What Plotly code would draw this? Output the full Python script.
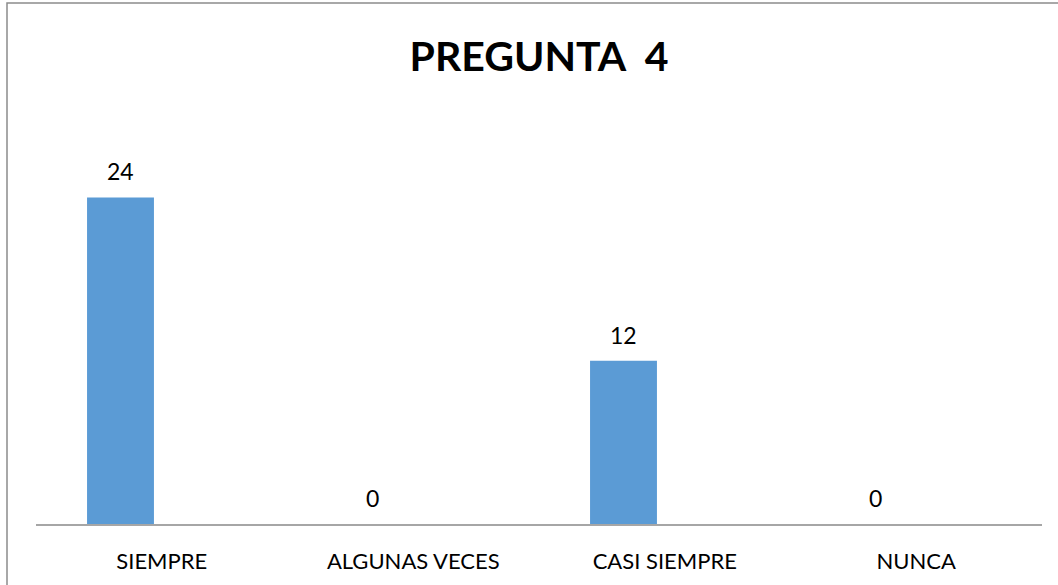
import plotly.graph_objects as go

# data
categories = ["SIEMPRE", "ALGUNAS VECES", "CASI SIEMPRE", "NUNCA"]
values = [24, 0, 12, 0]
title = "PREGUNTA\u00a0 4"

W, H = 1058, 585
left, right, top, bottom = 36, 16, 143, 61
plot_w = W - left - right
plot_h = H - top - bottom
cat_w = plot_w / len(categories)

bar_color = "#5B9BD5"
font_name = "Lato"

fig = go.Figure()
fig.add_trace(go.Bar(
    x=categories, y=values,
    width=0.266, offset=-0.297,
    marker=dict(color=bar_color, line=dict(width=0)),
    hoverinfo="skip",
))

# value labels above bars
for c, v in zip(categories, values):
    fig.add_annotation(
        x=c, y=v, text=str(v), showarrow=False,
        xshift=-0.164 * cat_w, yshift=26, yanchor="middle",
        font=dict(family=font_name, size=23, color="#000000"),
    )

# outer frame (only top/left visible in the reference)
fig.add_shape(type="rect", xref="paper", yref="paper",
              x0=(7 - left) / plot_w, x1=(W + 20 - left) / plot_w,
              y0=-(bottom + 30) / plot_h,
              y1=1 + (top - 3) / plot_h,
              line=dict(color="#8c8c8c", width=1.5), fillcolor="rgba(0,0,0,0)")

fig.update_layout(
    width=W, height=H,
    margin=dict(l=left, r=right, t=top, b=bottom, autoexpand=False),
    paper_bgcolor="white", plot_bgcolor="white",
    showlegend=False,
    title=dict(text="<b>" + title + "</b>", x=0.5, xref="paper", xanchor="center",
               y=1 - 57 / H, yanchor="middle",
               font=dict(family=font_name, size=41, color="#000000")),
    font=dict(family=font_name, color="#000000"),
)
fig.update_xaxes(
    showline=True, linecolor="#a6a6a6", linewidth=1.5,
    showgrid=False, zeroline=False,
    ticks="outside", ticklen=17, tickcolor="rgba(0,0,0,0)",
    tickfont=dict(family=font_name, size=22, color="#000000"),
)
fig.update_yaxes(range=[0, 28], visible=False, showgrid=False, zeroline=False)

# drop the browser's default page margin so the figure sits at 0,0
fig.write_html("out.html", config={"displayModeBar": False},
               post_script="document.body.style.margin='0';")
